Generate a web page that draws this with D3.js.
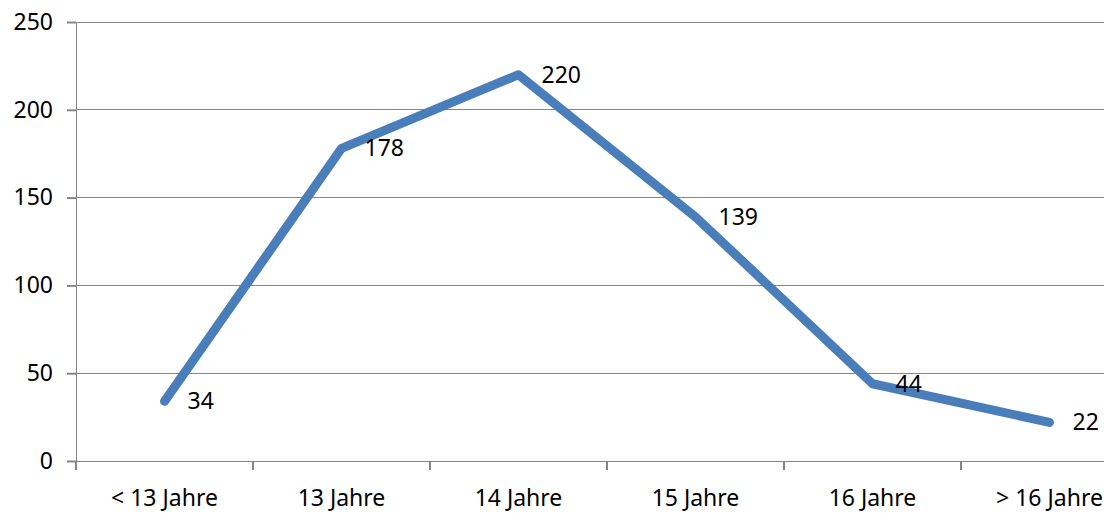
<!DOCTYPE html>
<html>
<head>
<meta charset="utf-8">
<script src="https://cdn.jsdelivr.net/npm/d3@7"></script>
<style>
  body { margin: 0; background: #fff; }
  svg { display: block; font-family: "Noto Sans", sans-serif; }
</style>
</head>
<body>
<div class="chart"></div>
<script>
// data
const categories = ["< 13 Jahre", "13 Jahre", "14 Jahre", "15 Jahre", "16 Jahre", "> 16 Jahre"];
const values = [34, 178, 220, 139, 44, 22];
const yTicks = [0, 50, 100, 150, 200, 250];

const width = 1104, height = 515;
// plot area runs past the right edge (the picture is cropped)
const plotLeft = 76, plotRight = 1138, plotTop = 22, plotBottom = 461;

const svg = d3.select(".chart").append("svg")
  .attr("width", width)
  .attr("height", height);

const x = d3.scaleBand().domain(categories).range([plotLeft, plotRight]);
const y = d3.scaleLinear().domain([0, 250]).range([plotBottom, plotTop]);

const gridColor = "#868686";
const fontSize = "23px";

// horizontal gridlines
svg.append("g").selectAll("line")
  .data(yTicks.filter(d => d > 0))
  .enter().append("line")
  .attr("x1", plotLeft).attr("x2", plotRight)
  .attr("y1", d => y(d)).attr("y2", d => y(d))
  .attr("stroke", gridColor)
  .attr("stroke-width", 1)
  .attr("shape-rendering", "crispEdges");

// y axis
const yAxis = svg.append("g")
  .attr("transform", `translate(${plotLeft},0)`)
  .call(d3.axisLeft(y).tickValues(yTicks).tickSize(9).tickPadding(14));
yAxis.select(".domain").attr("stroke", gridColor).attr("shape-rendering", "crispEdges");
yAxis.selectAll(".tick line").attr("stroke", gridColor).attr("stroke-width", 2);
yAxis.selectAll(".tick text")
  .attr("fill", "#000")
  .style("font-size", fontSize)
  .style("font-family", "Noto Sans, sans-serif");

// x axis: ticks on band boundaries
const xAxisG = svg.append("g");
xAxisG.append("line")
  .attr("x1", plotLeft).attr("x2", plotRight)
  .attr("y1", plotBottom).attr("y2", plotBottom)
  .attr("stroke", gridColor)
  .attr("shape-rendering", "crispEdges");
const bounds = categories.map(c => x(c)).concat([plotRight]);
xAxisG.selectAll(".xt")
  .data(bounds)
  .enter().append("line")
  .attr("class", "xt")
  .attr("x1", d => d).attr("x2", d => d)
  .attr("y1", plotBottom).attr("y2", plotBottom + 9)
  .attr("stroke", gridColor)
  .attr("stroke-width", 2);
xAxisG.selectAll("text")
  .data(categories)
  .enter().append("text")
  .attr("x", d => x(d) + x.bandwidth() / 2)
  .attr("y", 506)
  .attr("text-anchor", "middle")
  .style("font-size", fontSize)
  .text(d => d);

// the line
const pts = categories.map((c, i) => ({ c: c, v: values[i] }));
const line = d3.line()
  .x(d => x(d.c) + x.bandwidth() / 2)
  .y(d => y(d.v));

svg.append("path")
  .datum(pts)
  .attr("d", line)
  .attr("fill", "none")
  .attr("stroke", "#4a7ebb")
  .attr("stroke-width", 9)
  .attr("stroke-linecap", "round")
  .attr("stroke-linejoin", "round");

// data labels
svg.selectAll(".lbl")
  .data(pts)
  .enter().append("text")
  .attr("class", "lbl")
  .attr("x", d => x(d.c) + x.bandwidth() / 2 + 23)
  .attr("y", d => y(d.v))
  .attr("dy", "0.35em")
  .style("font-size", fontSize)
  .text(d => d.v);
</script>
</body>
</html>
